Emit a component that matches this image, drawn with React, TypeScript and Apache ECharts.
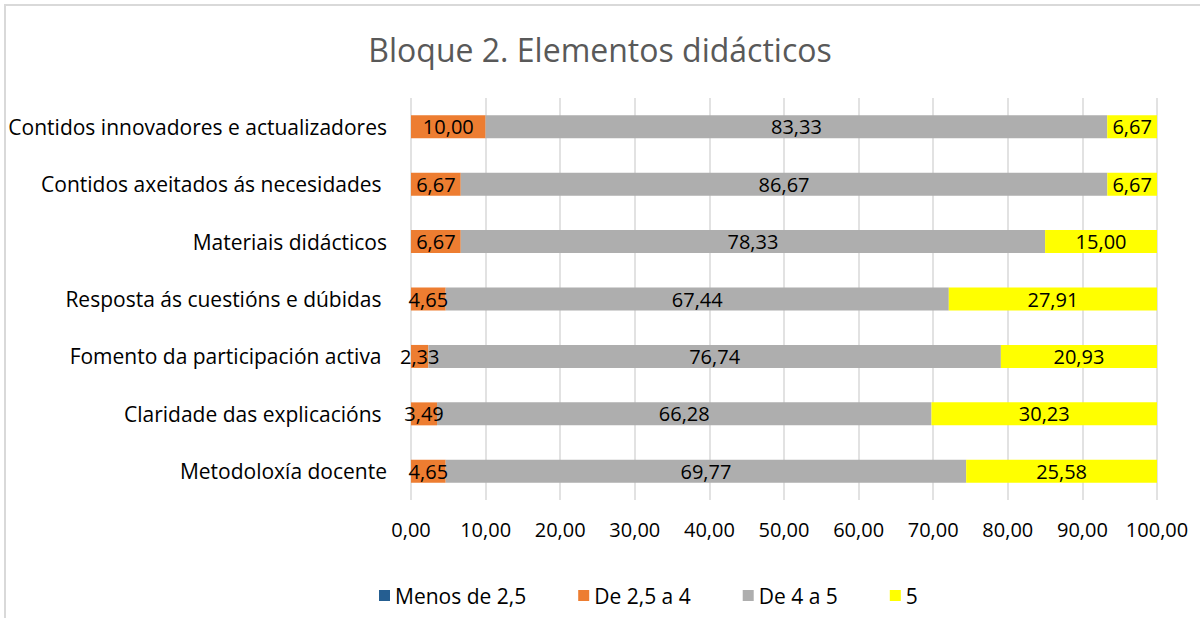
import React, { useEffect, useRef } from "react";
import * as echarts from "echarts";

const categories = [
  "Metodoloxía docente",
  "Claridade das explicacións ",
  "Fomento da participación activa ",
  "Resposta ás cuestións e dúbidas ",
  "Materiais didácticos",
  "Contidos axeitados ás necesidades ",
  "Contidos innovadores e actualizadores",
];
const seriesNames = ["Menos de 2,5", "De 2,5 a 4", "De 4 a 5", "5"];
const menos25 = [0, 0, 0, 0, 0, 0, 0];
const de25a4 = [4.65, 3.49, 2.33, 4.65, 6.67, 6.67, 10.0];
const de4a5 = [69.77, 66.28, 76.74, 67.44, 78.33, 86.67, 83.33];
const cinco = [25.58, 30.23, 20.93, 27.91, 15.0, 6.67, 6.67];
const xTicks = [0, 10, 20, 30, 40, 50, 60, 70, 80, 90, 100];

const colors = ["#255E91", "#ED7D31", "#AEAEAE", "#FFFF00"];
const FONT = "'Open Sans', Lato, sans-serif";

const fmt = (v: number) => v.toFixed(2).replace(".", ",");

export default function App() {
  const ref = useRef<HTMLDivElement>(null);
  useEffect(() => {
    document.body.style.margin = "0";
    const chart = echarts.init(ref.current!, undefined, { renderer: "svg" });
    const data = [menos25, de25a4, de4a5, cinco];
    chart.setOption({
      animation: false,
      textStyle: { fontFamily: FONT },
      title: {
        text: "Bloque 2. Elementos didácticos",
        left: "center",
        top: 28,
        textStyle: { fontFamily: FONT, fontSize: 32, fontWeight: "normal", color: "#595959" },
      },
      graphic: [
        {
          type: "rect",
          shape: { x: 5, y: 5, width: 1200, height: 620 },
          style: { fill: "none", stroke: "#D9D9D9", lineWidth: 2 },
          silent: true,
        },
      ],
      legend: {
        bottom: 7,
        left: 374,
        itemWidth: 11,
        itemHeight: 11,
        itemGap: 52,
        itemTextGap: 6,
        icon: "rect",
        data: seriesNames,
        textStyle: { fontFamily: FONT, fontSize: 21, color: "#000" },
      },
      grid: { left: 411, right: 43, top: 98, bottom: 118 },
      xAxis: {
        type: "value",
        min: 0,
        max: xTicks[xTicks.length - 1],
        interval: xTicks[1] - xTicks[0],
        axisLine: { show: false },
        axisTick: { show: false },
        splitLine: { show: true, lineStyle: { color: "#D9D9D9", width: 1.5 } },
        axisLabel: {
          margin: 19,
          fontFamily: FONT,
          fontSize: 20,
          color: "#000",
          formatter: (v: number) => fmt(v),
        },
      },
      yAxis: {
        type: "category",
        data: categories,
        axisLine: { show: false },
        axisTick: { show: false },
        axisLabel: { margin: 24, fontFamily: FONT, fontSize: 21, color: "#000" },
      },
      series: seriesNames.map((name, i) => ({
        name,
        type: "bar",
        stack: "total",
        barCategoryGap: "60%",
        data: data[i],
        itemStyle: { color: colors[i] },
        label: {
          show: true,
          position: "inside",
          fontFamily: FONT,
          fontSize: 20,
          color: "#000",
          formatter: (p: any) => (p.value ? fmt(p.value) : ""),
        },
      })),
    });
    return () => chart.dispose();
  }, []);
  return <div ref={ref} style={{ width: 1200, height: 618 }} />;
}
